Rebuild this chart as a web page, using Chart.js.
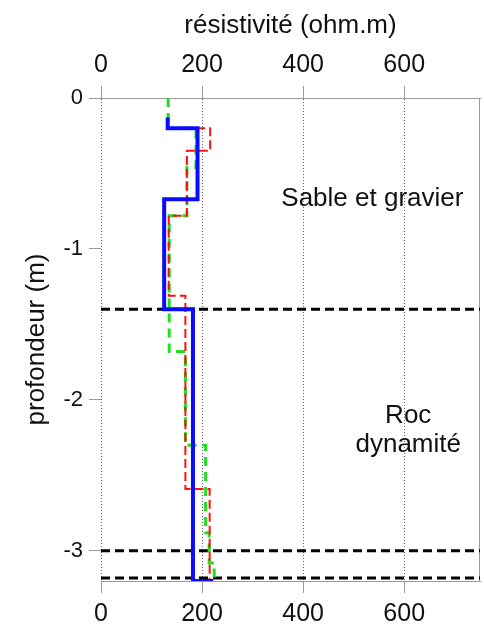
<!DOCTYPE html>
<html><head><meta charset="utf-8">
<script src="https://cdn.jsdelivr.net/npm/chart.js@4.4.1/dist/chart.umd.min.js"></script>
<style>html,body{margin:0;padding:0;background:#fff}#wrap{width:484px;height:627px;position:relative}</style>
</head><body><div id="wrap"><canvas id="c"></canvas></div>
<script>
const xTitle = 'résistivité (ohm.m)';
const yTitle = 'profondeur (m)';
const xTicks = [0, 200, 400, 600];
const yTicks = [0, -1, -2, -3];
const xRange = [0, 750];
const yRange = [-3.2, 0];

// layered models: depth boundaries (m) and resistivity per layer (ohm.m)
const blueDepth = [-0.13, -0.20, -0.67, -1.40, -3.20, -3.20];
const blueRes   = [132, 191, 125, 182, 222];
const redDepth  = [-0.13, -0.20, -0.35, -0.78, -1.31, -2.59, -3.20];
const redRes    = [132, 216, 170, 134, 167, 215];
const greenDepth = [0, -0.20, -0.46, -0.78, -1.68, -2.30, -2.88, -3.08, -3.20];
const greenRes   = [133, 188, 170, 135, 167, 207, 214, 224];
const boundaryDepths = [-1.40, -3.00, -3.18];

const annotations = [
  {lines: ['Sable et gravier'], x: 537, y: -0.668},
  {lines: ['Roc', 'dynamité'], x: 608, y: -2.203}
];

const FAM = '"Liberation Sans", Arial, sans-serif';

function steps(depth, res) {
  const pts = [];
  res.forEach((r, i) => { pts.push({x: r, y: depth[i]}); pts.push({x: r, y: depth[i + 1]}); });
  return pts;
}

const datasets = [];
datasets.push({data: steps(blueDepth, blueRes), borderColor: '#0b0bff', borderWidth: 4, order: 0});
datasets.push({data: steps(redDepth, redRes), borderColor: '#ff1010', borderWidth: 2, borderDash: [9, 4], order: 1});
datasets.push({data: steps(greenDepth, greenRes), borderColor: '#1ee01e', borderWidth: 3, borderDash: [9, 6], order: 2});
boundaryDepths.forEach(d => {
  datasets.push({data: [{x: xRange[0], y: d}, {x: xRange[1], y: d}], borderColor: '#000', borderWidth: 3, borderDash: [9, 5], order: 3});
});
datasets.forEach(ds => {
  ds.showLine = true; ds.pointRadius = 0; ds.fill = false; ds.tension = 0;
  ds.borderJoinStyle = 'miter'; ds.borderCapStyle = 'butt'; ds.xAxisID = 'x'; ds.yAxisID = 'y';
});

const frame = {
  id: 'frame',
  beforeDatasetsDraw(chart) {
    const {ctx, chartArea: a} = chart;
    ctx.save();
    ctx.strokeStyle = '#999'; ctx.lineWidth = 1;
    ctx.beginPath(); ctx.moveTo(Math.round(a.right) - 0.5, a.top); ctx.lineTo(Math.round(a.right) - 0.5, a.bottom); ctx.stroke();
    ctx.restore();
  },
  afterDatasetsDraw(chart) {
    const {ctx} = chart;
    const xs = chart.scales.x, ys = chart.scales.y;
    ctx.save();
    ctx.fillStyle = '#111';
    ctx.font = '26px ' + FAM;
    ctx.textAlign = 'center'; ctx.textBaseline = 'middle';
    const lh = 29;
    annotations.forEach(a => {
      const px = xs.getPixelForValue(a.x), py = ys.getPixelForValue(a.y);
      const n = a.lines.length;
      a.lines.forEach((t, i) => ctx.fillText(t, px, py + (i - (n - 1) / 2) * lh));
    });
    ctx.restore();
  }
};

const tickFont = {family: FAM, size: 25};
new Chart(document.getElementById('c'), {
  type: 'scatter',
  data: {datasets},
  options: {
    responsive: true, maintainAspectRatio: false, animation: false,
    layout: {padding: {left: 0, right: 4, top: 0, bottom: 0}},
    plugins: {legend: {display: false}, tooltip: {enabled: false}},
    scales: {
      x: {
        type: 'linear', position: 'top', min: xRange[0], max: xRange[1],
        afterBuildTicks: s => { s.ticks = xTicks.map(v => ({value: v})); },
        ticks: {font: tickFont, color: '#111', padding: 6, maxRotation: 0, callback: v => String(v)},
        grid: {color: '#666', lineWidth: 1, tickLength: 12, tickColor: '#999', tickBorderDash: []},
        border: {display: true, color: '#999', width: 1, dash: [1, 2]},
        title: {display: true, text: xTitle, color: '#111', font: {family: FAM, size: 26}, padding: {top: 10, bottom: 0}},
        afterFit: s => { s.height = 98; }
      },
      xb: {
        type: 'linear', position: 'bottom', min: xRange[0], max: xRange[1],
        afterBuildTicks: s => { s.ticks = xTicks.map(v => ({value: v})); },
        ticks: {font: tickFont, color: '#111', padding: 6, maxRotation: 0, callback: v => String(v)},
        grid: {drawOnChartArea: false, tickLength: 12, tickColor: '#999', tickBorderDash: []},
        border: {display: true, color: '#999', width: 1},
        afterFit: s => { s.height = 46; }
      },
      y: {
        type: 'linear', position: 'left', min: yRange[0], max: yRange[1],
        afterBuildTicks: s => { s.ticks = yTicks.map(v => ({value: v})); },
        ticks: {font: {family: FAM, size: 22}, color: '#111', padding: 6, callback: v => String(v)},
        grid: {drawOnChartArea: false, tickLength: 12, tickColor: '#999', tickBorderDash: []},
        border: {display: false},
        title: {display: true, text: yTitle, color: '#111', font: {family: FAM, size: 26}, padding: {top: 21, bottom: 0}},
        afterFit: s => { s.width = 101; }
      }
    }
  },
  plugins: [frame]
});
</script></body></html>
